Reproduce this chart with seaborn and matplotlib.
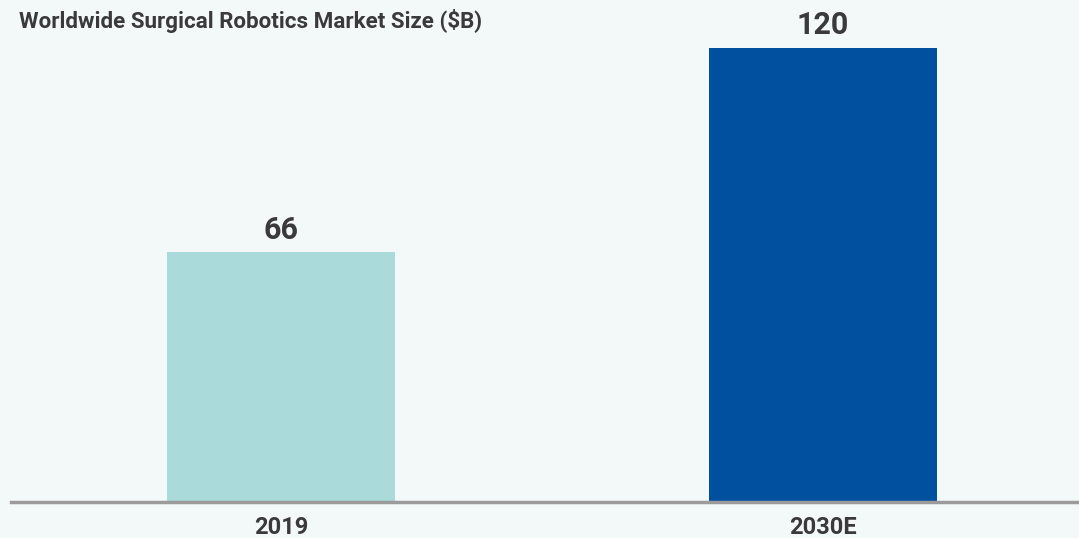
import pandas as pd
import matplotlib.pyplot as plt
import seaborn as sns
from matplotlib import font_manager

years = ['2019', '2030E']
market_size = [66, 120]
bar_colors = ['#aadada', '#0050a0']

df = pd.DataFrame({'year': years, 'size': market_size})

sns.set_style('white')
names = {f.name for f in font_manager.fontManager.ttflist}
fam = 'Liberation Sans Narrow' if 'Liberation Sans Narrow' in names else 'Roboto'
plt.rcParams['font.family'] = [fam, 'DejaVu Sans']

bg = '#f3f8f8'
txt = '#3a3a3c'

fig = plt.figure(figsize=(10.79, 5.38), dpi=100, facecolor=bg)
ax = fig.add_axes([11 / 1079, 36 / 538, 1068 / 1079, 502 / 538])
ax.set_facecolor(bg)

sns.barplot(data=df, x='year', y='size', hue='year', palette=bar_colors,
            width=0.42, legend=False, ax=ax, saturation=1, linewidth=0)

for i, v in enumerate(market_size):
    ax.text(i, v + 2.0, str(v), ha='center', va='bottom', fontsize=22,
            fontweight='bold', color=txt)

ax.set_xlim(-0.498, 1.472)
ax.set_ylim(0, 132.6)
ax.set_yticks([])
ax.set_xlabel('')
ax.set_ylabel('')
for s in ['top', 'right', 'left']:
    ax.spines[s].set_visible(False)
ax.spines['bottom'].set_color('#9b9b9b')
ax.spines['bottom'].set_linewidth(2.5)
ax.tick_params(axis='x', length=0, pad=10, labelsize=17, labelcolor=txt)
for lab in ax.get_xticklabels():
    lab.set_fontweight('bold')

fig.text(19 / 1079, 1 - 21 / 538, 'Worldwide Surgical Robotics Market Size ($B)',
         ha='left', va='center', fontsize=16.1, fontweight='bold', color=txt)

fig.savefig('out.png', dpi=100, facecolor=bg)
